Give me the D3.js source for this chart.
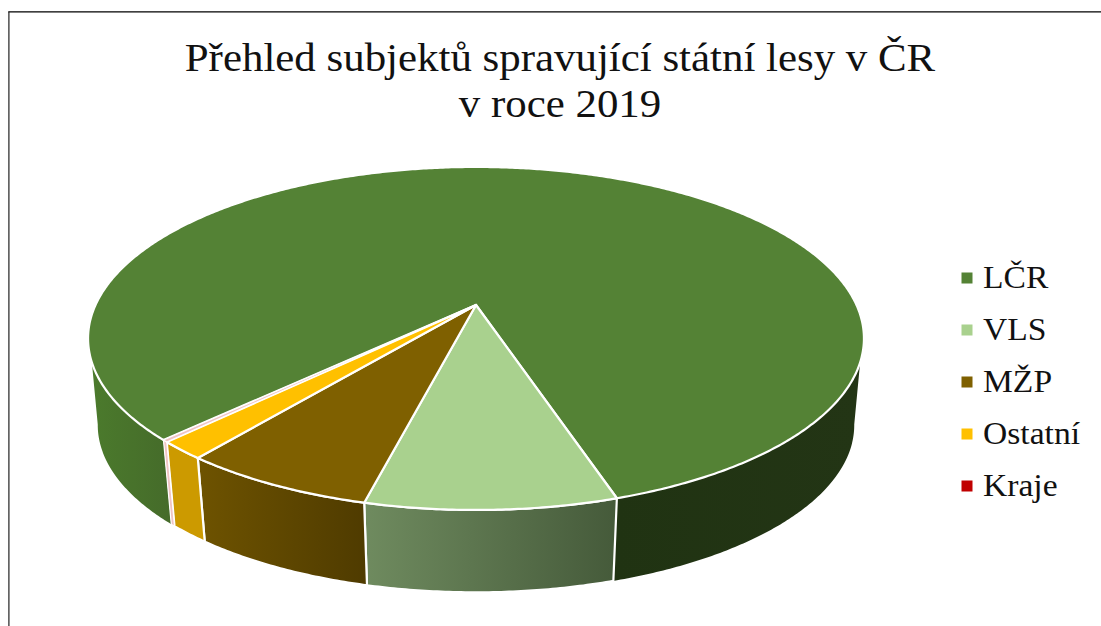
<!DOCTYPE html>
<html lang="cs"><head><meta charset="utf-8">
<script src="https://cdnjs.cloudflare.com/ajax/libs/d3/7.8.5/d3.min.js"></script>
<style>html,body{margin:0;padding:0;background:#fff;overflow:hidden}svg{display:block}text{font-family:"Liberation Serif",serif;fill:#111}</style>
</head><body><svg id="c" width="1101" height="626"></svg>
<script>
const categories = ["LČR","VLS","MŽP","Ostatní","Kraje"];
const values = [82.6,8.7,6.8,1.7,0.2];
const titleLines = ["Přehled subjektů spravující státní lesy v ČR","v roce 2019"];
const colors = ["#548235","#A9D18E","#7F6000","#FFC000","#C00000"];
const topColors = ["#548235","#A9D18E","#7F6000","#FFC000","#f0c4c4"];
const wallFrom = ["#4b7a2c","#6f8b5f","#6e5300","#cc9a00","#f0c4c4"];
const wallTo   = ["#456b2a","#455a3a","#4f3b00","#cc9a00","#f0c4c4"];
const wallDarkFrom = "#203312", wallDarkTo = "#233515";

const svg = d3.select("#c");
const deg = Math.PI/180;
const start = 225.1*deg;
const pie = d3.pie().sort(null).startAngle(start).endAngle(start+2*Math.PI);
const arcs = pie(values);

// perspective projection of the tilted disc
const X0=476, Y0=305, B=380.5, A=165, K=0.195, DROP=87.5, SHRINK=0.975;
function topPt(a){
  const u=Math.sin(a), v=-Math.cos(a), s=1/(1-K*v);
  return [X0+B*u*s, Y0+A*v*s];
}
function botPt(a){
  const p=topPt(a);
  return [X0+(p[0]-X0)*SHRINK, Y0+DROP+(p[1]-Y0)*SHRINK];
}
const line=d3.line();
function samples(a0,a1){
  const n=Math.max(2,Math.ceil(Math.abs(a1-a0)/(0.5*deg)));
  return d3.range(n+1).map(i=>a0+(a1-a0)*i/n);
}
const defs=svg.append("defs");

// frame
svg.append("line").attr("x1",8.3).attr("x2",1101).attr("y1",11.8).attr("y2",11.8).attr("stroke","#000").attr("stroke-width",1.2);
svg.append("line").attr("x1",8.9).attr("x2",8.9).attr("y1",11.8).attr("y2",626).attr("stroke","#222").attr("stroke-width",1.2);

// title (the source image is stretched horizontally)
svg.append("g").selectAll("text").data(titleLines).join("text")
  .attr("transform",(d,i)=>`translate(560,${71+i*46}) scale(1.1,1)`)
  .attr("text-anchor","middle").attr("font-size",39).text(d=>d);

// walls: rim/bottom limits of the visible side
const RIM_R=109*deg, BOT_R=101*deg, RIM_L=251*deg, BOT_L=259*deg;
const pieces=[];
arcs.forEach((d,i)=>{
  const t=2*Math.PI;
  [0,-t].forEach(off=>{
    const a0=Math.max(d.startAngle+off,BOT_R), a1=Math.min(d.endAngle+off,BOT_L);
    if(a1>a0) pieces.push({i,a0,a1,dark:i===0&&a1<180*deg});
  });
});
pieces.forEach((p,n)=>{
  const ta0=Math.max(p.a0,RIM_R), ta1=Math.min(p.a1,RIM_L);
  const tp=samples(ta0,ta1).map(topPt), bt=samples(p.a0,p.a1).map(botPt);
  const xs=tp.concat(bt).map(q=>q[0]);
  const id="w"+n;
  const g=defs.append("linearGradient").attr("id",id).attr("gradientUnits","userSpaceOnUse")
    .attr("x1",d3.min(xs)).attr("x2",d3.max(xs)).attr("y1",0).attr("y2",0);
  g.append("stop").attr("offset",0).attr("stop-color",p.dark?wallDarkFrom:wallFrom[p.i]);
  g.append("stop").attr("offset",1).attr("stop-color",p.dark?wallDarkTo:wallTo[p.i]);
  const isOuter=p.a0===BOT_R||p.a1===BOT_L;
  const shape=svg.append("path").attr("d",line(tp.concat(bt.reverse()))+"Z")
    .attr("fill",`url(#${id})`).attr("stroke-linejoin","round");
  if(isOuter){
    shape.attr("stroke","none");
  } else {
    shape.attr("stroke","#fff").attr("stroke-width",p.i===4?1.2:2.2);
  }
});

// top face
svg.append("g").selectAll("path").data(arcs).join("path")
  .attr("d",d=>line([[X0,Y0]].concat(samples(d.startAngle,d.endAngle).map(topPt)))+"Z")
  .attr("fill",(d,i)=>topColors[i]).attr("stroke","#fff")
  .attr("stroke-width",(d,i)=>i===4?1.2:2.2).attr("stroke-linejoin","round");

// legend
const legendY=d3.scalePoint().domain(categories).range([278,486]);
const lg=svg.append("g").selectAll("g").data(categories).join("g")
  .attr("transform",d=>`translate(0,${legendY(d)})`);
lg.append("rect").attr("x",961.5).attr("y",-5.5).attr("width",11).attr("height",11).attr("fill",(d,i)=>colors[i]);
lg.append("text").attr("transform","translate(983,9.5) scale(1.05,1)").attr("font-size",32).text(d=>d);
</script></body></html>
